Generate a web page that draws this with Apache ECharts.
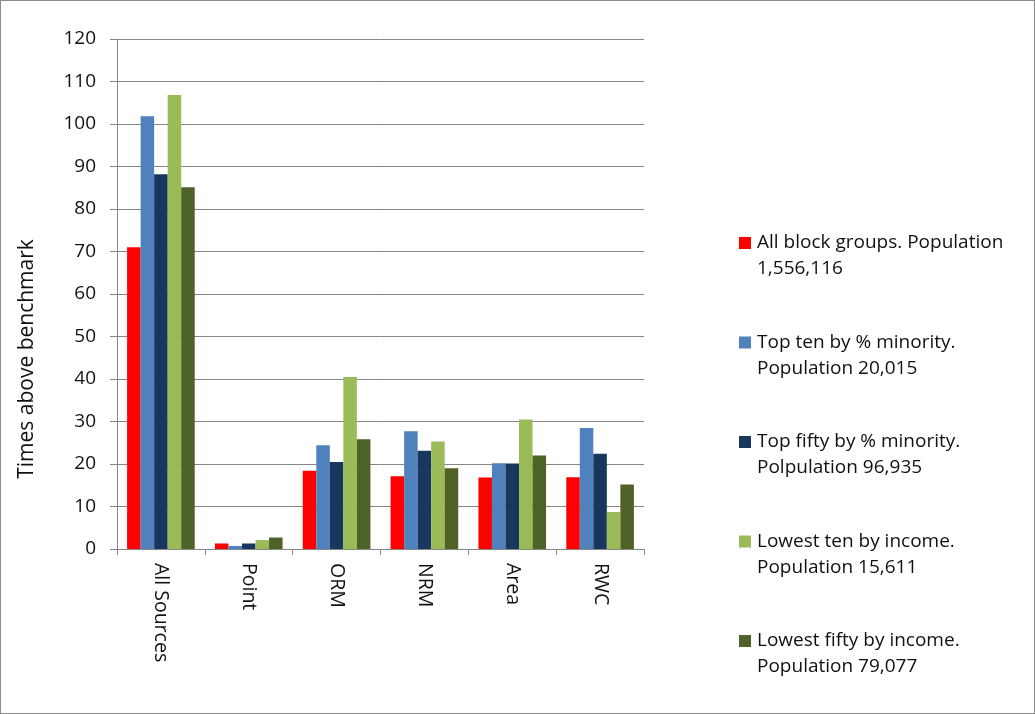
<!DOCTYPE html>
<html>
<head>
<meta charset="utf-8">
<script src="https://cdn.jsdelivr.net/npm/echarts@6/dist/echarts.min.js"></script>
<style>
  html, body { margin: 0; padding: 0; background: #fff; }
  #chart { width: 1035px; height: 714px; box-sizing: border-box; border: 1px solid #8c8c8c; }
</style>
</head>
<body>
<div id="chart"></div>
<script>
// Emission source groups along the x axis
const categories = ['All Sources', 'Point', 'ORM', 'NRM', 'Area', 'RWC'];

// Times above benchmark, one array per population group
const allBlockGroups    = [71.0, 1.3, 18.4, 17.1, 16.8, 16.9];
const topTenMinority    = [101.8, 0.7, 24.4, 27.7, 20.2, 28.5];
const topFiftyMinority  = [88.2, 1.3, 20.5, 23.1, 20.1, 22.4];
const lowestTenIncome   = [106.8, 2.1, 40.5, 25.3, 30.5, 8.7];
const lowestFiftyIncome = [85.1, 2.7, 25.8, 19.0, 22.0, 15.2];

const seriesNames = [
  'All block groups. Population\n1,556,116',
  'Top ten by % minority.\nPopulation 20,015',
  'Top fifty by % minority.\nPolpulation 96,935',
  'Lowest ten by income.\nPopulation 15,611',
  'Lowest fifty by income.\nPopulation 79,077'
];
const seriesData = [allBlockGroups, topTenMinority, topFiftyMinority, lowestTenIncome, lowestFiftyIncome];
const seriesColors = ['#ff0000', '#4f81bd', '#17375e', '#9bbb59', '#4f6228'];

const yTicks = { min: 0, max: 120, interval: 10 };

const font = 'Open Sans, Noto Sans, sans-serif';
const textColor = '#111111';
const axisColor = '#868686';

const chart = echarts.init(document.getElementById('chart'), null, { renderer: 'canvas' });

chart.setOption({
  backgroundColor: '#ffffff',
  animation: false,
  grid: { left: 116, right: 390, top: 38, bottom: 164, containLabel: false, outerBoundsMode: 'none' },
  legend: {
    orient: 'vertical',
    left: 733,
    top: 224,
    itemGap: 47.5,
    itemWidth: 12,
    itemHeight: 38,
    // square sitting beside the first line of each two-line entry
    icon: 'path://M0,0L12,0L12,12L0,12Z M0,38L0.001,38',
    textStyle: { fontFamily: font, fontSize: 19, color: textColor, lineHeight: 26, padding: [0, 0, 0, 1] },
    data: seriesNames
  },
  xAxis: {
    type: 'category',
    data: categories,
    axisLine: { show: true, lineStyle: { color: axisColor, width: 1 } },
    axisTick: { show: true, length: 6, lineStyle: { color: axisColor } },
    axisLabel: {
      rotate: -90,
      margin: 14,
      fontFamily: font,
      fontSize: 19.5,
      color: textColor
    },
    splitLine: { show: false }
  },
  yAxis: {
    type: 'value',
    min: yTicks.min,
    max: yTicks.max,
    interval: yTicks.interval,
    name: 'Times above benchmark',
    nameLocation: 'middle',
    nameGap: 79,
    nameTextStyle: { fontFamily: font, fontSize: 21, color: textColor, padding: [0, 130, 0, 0] },
    axisLine: { show: true, lineStyle: { color: axisColor, width: 1 } },
    axisTick: { show: true, length: 7, lineStyle: { color: axisColor } },
    axisLabel: { fontFamily: font, fontSize: 19, color: textColor, margin: 21 },
    splitLine: { show: true, lineStyle: { color: axisColor, width: 1 } }
  },
  series: seriesNames.map((name, i) => ({
    name: name,
    type: 'bar',
    data: seriesData[i],
    barGap: '0%',
    barCategoryGap: '23%',
    itemStyle: { color: seriesColors[i] }
  }))
});
</script>
</body>
</html>
